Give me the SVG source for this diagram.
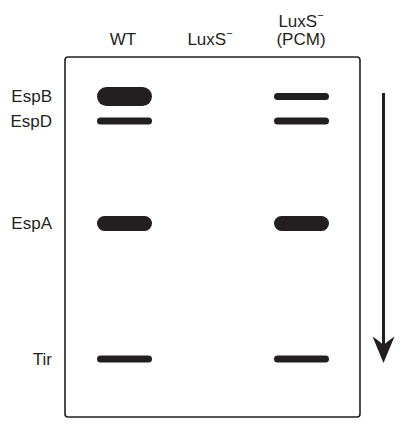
<svg xmlns="http://www.w3.org/2000/svg" width="410" height="429" viewBox="0 0 410 429">
<style>
.t{font-family:"Liberation Sans",Arial,sans-serif;font-size:17px;fill:#231f20}
.m{text-anchor:middle}
.e{text-anchor:end}
.band{fill:#231f20}
.sup{font-size:11px}
</style>
<rect x="0" y="0" width="410" height="429" fill="#ffffff"/>
<g id="gel">
<rect x="65" y="57" width="295" height="360" rx="3" ry="3" fill="none" stroke="#231f20" stroke-width="1.6"/>
</g>
<g id="lane-labels">
<text class="t m" x="123" y="45">WT</text>
<text class="t m" x="210" y="45">LuxS<tspan class="sup" dy="-8">−</tspan></text>
<text class="t m" x="301" y="27">LuxS<tspan class="sup" dy="-8">−</tspan></text>
<text class="t m" x="301" y="45">(PCM)</text>
</g>
<g id="band-labels">
<text class="t e" x="52" y="102">EspB</text>
<text class="t e" x="52" y="127">EspD</text>
<text class="t e" x="52" y="229">EspA</text>
<text class="t e" x="52" y="365">Tir</text>
</g>
<g id="lane-WT">
<rect class="band" x="97" y="87" width="55" height="19" rx="9.5"/>
<rect class="band" x="97" y="117.5" width="55" height="7" rx="3.5"/>
<rect class="band" x="97" y="216" width="55" height="15" rx="7.5"/>
<rect class="band" x="97" y="355.5" width="55" height="7" rx="3.5"/>
</g>
<g id="lane-PCM">
<rect class="band" x="274" y="93" width="55" height="7" rx="3.5"/>
<rect class="band" x="274" y="117.5" width="55" height="7" rx="3.5"/>
<rect class="band" x="274" y="216" width="55" height="15" rx="7.5"/>
<rect class="band" x="274" y="355.5" width="55" height="7" rx="3.5"/>
</g>
<g id="connectors">
<line x1="383.5" y1="93" x2="383.5" y2="345" stroke="#231f20" stroke-width="3"/>
<path d="M372.5,336.5 Q378,340 383.5,345 Q389,340 394.5,336.5 L383.5,363 Z" fill="#231f20"/>
</g>
</svg>
